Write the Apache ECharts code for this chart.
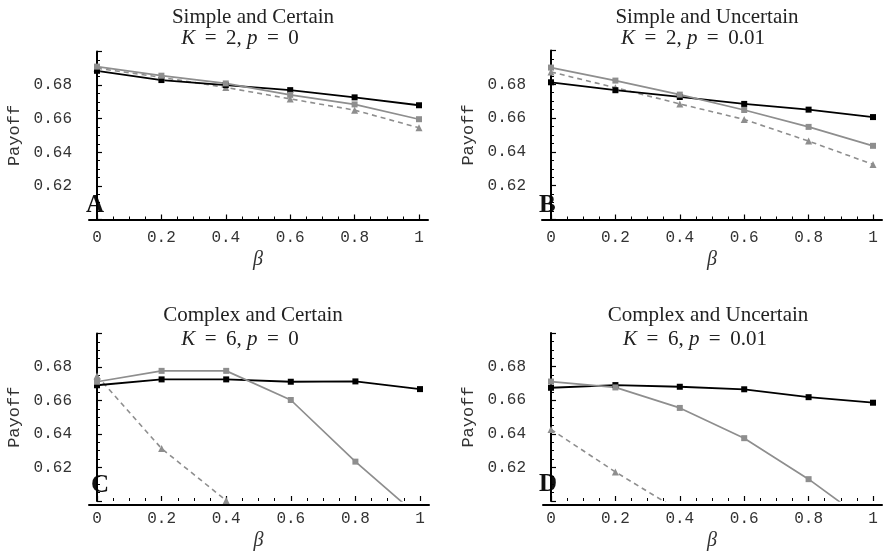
<!DOCTYPE html>
<html>
<head>
<meta charset="utf-8">
<script src="https://cdn.jsdelivr.net/npm/echarts@6/dist/echarts.min.js"></script>
<style>
html,body{margin:0;padding:0;background:#fff;}
#chart{width:885px;height:552px;}
</style>
</head>
<body>
<div id="chart"></div>
<script>
// ---- data ----
const betas = [0, 0.2, 0.4, 0.6, 0.8, 1];
const xTickLabels = ['0', '0.2', '0.4', '0.6', '0.8', '1'];
const yTickLabels = ['0.62', '0.64', '0.66', '0.68'];

const titlesMain = ['Simple and Certain', 'Simple and Uncertain', 'Complex and Certain', 'Complex and Uncertain'];
const titlesK = ['2', '2', '6', '6'];
const titlesP = ['0', '0.01', '0', '0.01'];
const panelLetters = ['A', 'B', 'C', 'D'];

const A_black = [0.6885, 0.6830, 0.6800, 0.6770, 0.6727, 0.6680];
const A_gray  = [0.6910, 0.6856, 0.6810, 0.6742, 0.6685, 0.6597];
const A_dash  = [0.6900, 0.6846, 0.6786, 0.6718, 0.6651, 0.6546];

const B_black = [0.6812, 0.6765, 0.6725, 0.6684, 0.6650, 0.6606];
const B_gray  = [0.6899, 0.6822, 0.6739, 0.6648, 0.6548, 0.6436];
const B_dash  = [0.6873, 0.6780, 0.6684, 0.6592, 0.6464, 0.6326];

const C_black = [0.6691, 0.6726, 0.6726, 0.6712, 0.6714, 0.6668];
const C_gray  = [0.6712, 0.6777, 0.6777, 0.6603, 0.6235, 0.5900];
const C_dash  = [0.6747, 0.6313, 0.6003, null, null, null];

const D_black = [0.6674, 0.6690, 0.6680, 0.6665, 0.6618, 0.6585];
const D_gray  = [0.6711, 0.6676, 0.6554, 0.6374, 0.6130, 0.5850];
const D_dash  = [0.6426, 0.6173, 0.5940, null, null, null];

const panelData = [
  [A_black, A_gray, A_dash],
  [B_black, B_gray, B_dash],
  [C_black, C_gray, C_dash],
  [D_black, D_gray, D_dash]
];

// ---- layout (pixels) ----
const layout = [
  {left: 97,  width: 322, top: 51.5, height: 168, lineLeft: 89,  lineWidth: 339, titleX: 253, kX: 240, titleY: 17,  kY: 38,  letterX: 86,  letterY: 206},
  {left: 551, width: 322, top: 50.5, height: 169, lineLeft: 542, lineWidth: 340, titleX: 707, kX: 693, titleY: 17,  kY: 38,  letterX: 539, letterY: 206},
  {left: 97,  width: 323, top: 333.5,height: 171, lineLeft: 89,  lineWidth: 340, titleX: 253, kX: 240, titleY: 315, kY: 339, letterX: 91,  letterY: 486},
  {left: 551, width: 322, top: 333,  height: 171.5, lineLeft: 543, lineWidth: 339, titleX: 708, kX: 695, titleY: 315, kY: 339, letterX: 539, letterY: 485}
];

const GRAY = '#8e8e8e';
const monoFont = '"Liberation Mono", "DejaVu Sans Mono", monospace';
const serifFont = '"Liberation Serif", "DejaVu Serif", serif';
const SP = ' \u2009';

const grids = [], xAxes = [], yAxes = [], series = [], graphics = [];

layout.forEach((L, i) => {
  grids.push({left: L.left, top: L.top, width: L.width, height: L.height, containLabel: false});
  grids.push({left: L.lineLeft, top: L.top, width: L.lineWidth, height: L.height, containLabel: false});
  const gData = 2 * i, gLine = 2 * i + 1;

  xAxes.push({
    gridIndex: gData, type: 'value', min: 0, max: 1, interval: 0.2,
    axisLine: {show: false},
    axisTick: {show: true, inside: true, length: 5, lineStyle: {color: '#000', width: 1.2}},
    minorTick: {show: true, splitNumber: 4, length: 3, lineStyle: {color: '#000', width: 1}},
    splitLine: {show: false},
    axisLabel: {
      margin: 10, color: '#333', fontFamily: monoFont, fontSize: 16,
      formatter: (v) => { const k = betas.findIndex(b => Math.abs(b - v) < 1e-9); return k >= 0 ? xTickLabels[k] : ''; }
    },
    name: 'β', nameLocation: 'middle', nameGap: 30,
    nameTextStyle: {fontFamily: serifFont, fontStyle: 'italic', fontSize: 20, color: '#333'}
  });
  xAxes.push({
    gridIndex: gLine, type: 'value', min: 0, max: 1,
    axisLine: {show: true, lineStyle: {color: '#000', width: 2}},
    axisTick: {show: false}, axisLabel: {show: false}, splitLine: {show: false}
  });

  yAxes.push({
    gridIndex: gData, type: 'value', min: 0.60, max: 0.70, interval: 0.02, offset: 16,
    axisLine: {show: true, lineStyle: {color: '#000', width: 2}},
    axisTick: {show: true, inside: true, length: 5, lineStyle: {color: '#000', width: 1.2}},
    minorTick: {show: true, splitNumber: 4, length: 3, lineStyle: {color: '#000', width: 1}},
    splitLine: {show: false},
    axisLabel: {
      margin: 9, color: '#333', fontFamily: monoFont, fontSize: 16,
      formatter: (v) => { const s = v.toFixed(2); return yTickLabels.indexOf(s) >= 0 ? s : ''; }
    },
    name: 'Payoff', nameLocation: 'middle', nameGap: 58, nameRotate: 90,
    nameTextStyle: {fontFamily: monoFont, fontSize: 17, color: '#333'}
  });
  yAxes.push({gridIndex: gLine, type: 'value', min: 0.60, max: 0.70, show: false});

  const [blk, gry, dsh] = panelData[i];
  const xi = 2 * i, yi = 2 * i;
  series.push({
    type: 'line', xAxisIndex: xi, yAxisIndex: yi, clip: true,
    data: betas.map((b, k) => [b, dsh[k]]),
    symbol: 'triangle', symbolSize: 7, showAllSymbol: true,
    lineStyle: {color: GRAY, width: 1.6, type: [5, 4]},
    itemStyle: {color: GRAY}, connectNulls: false, animation: false
  });
  series.push({
    type: 'line', xAxisIndex: xi, yAxisIndex: yi, clip: true,
    data: betas.map((b, k) => [b, blk[k]]),
    symbol: 'rect', symbolSize: 6, showAllSymbol: true,
    lineStyle: {color: '#000', width: 1.8},
    itemStyle: {color: '#000'}, animation: false
  });
  series.push({
    type: 'line', xAxisIndex: xi, yAxisIndex: yi, clip: true,
    data: betas.map((b, k) => [b, gry[k]]),
    symbol: 'rect', symbolSize: 6, showAllSymbol: true,
    lineStyle: {color: GRAY, width: 1.7},
    itemStyle: {color: GRAY}, animation: false
  });

  graphics.push({
    type: 'text', x: L.titleX, y: L.titleY,
    style: {text: titlesMain[i], textAlign: 'center', textVerticalAlign: 'middle',
            font: '21px ' + serifFont, fill: '#222'}
  });
  graphics.push({
    type: 'text', x: L.kX, y: L.kY,
    style: {text: '{i|K}' + SP + '=' + SP + titlesK[i] + ', {i|p}' + SP + '=' + SP + titlesP[i], textAlign: 'center', textVerticalAlign: 'middle',
            font: '21px ' + serifFont, fill: '#222',
            rich: {i: {fontStyle: 'italic', fontFamily: serifFont, fontSize: 21, fill: '#222'}}}
  });
  graphics.push({
    type: 'text', x: L.letterX, y: L.letterY,
    style: {text: panelLetters[i], textAlign: 'left', textVerticalAlign: 'middle',
            font: 'bold 25px ' + serifFont, fill: '#111'}
  });
});

const chart = echarts.init(document.getElementById('chart'), null, {renderer: 'canvas'});
chart.setOption({
  animation: false,
  backgroundColor: '#fff',
  grid: grids,
  xAxis: xAxes,
  yAxis: yAxes,
  series: series,
  graphic: graphics
});
</script>
</body>
</html>
